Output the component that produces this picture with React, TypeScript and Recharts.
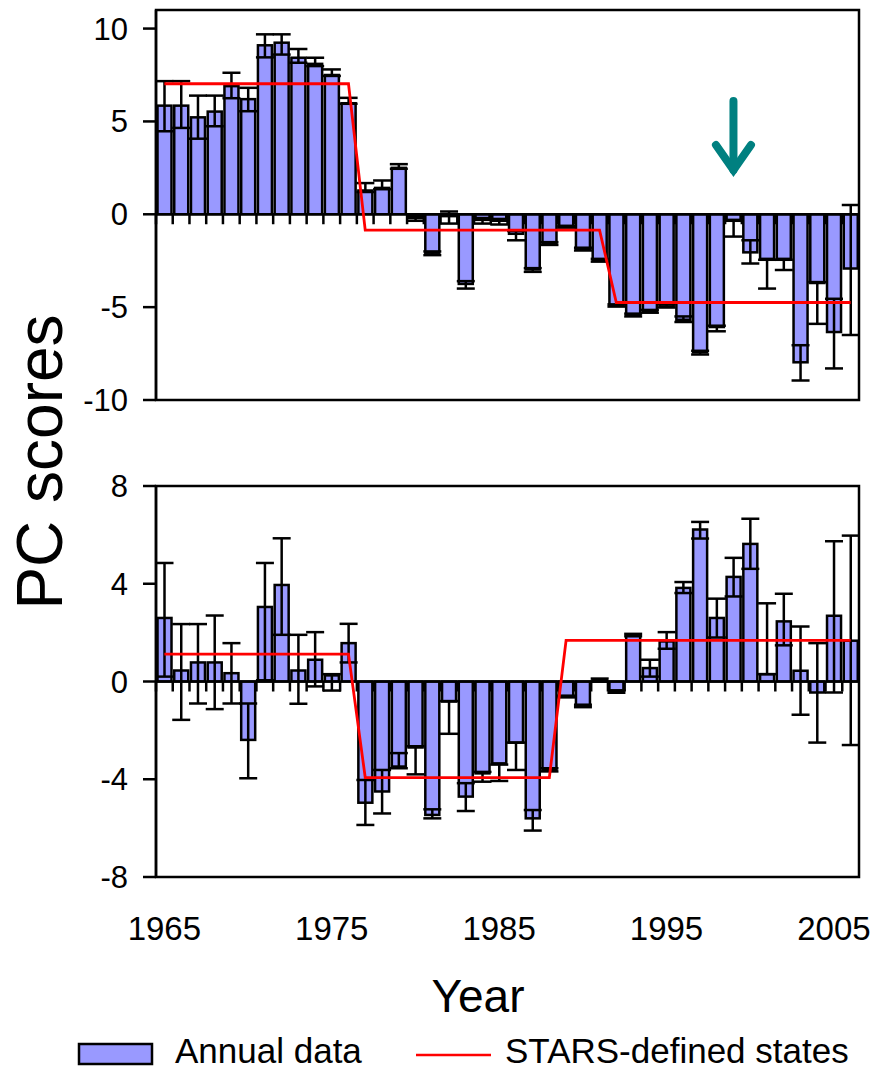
import React from 'react';
import {
  ComposedChart,
  Bar,
  Line,
  XAxis,
  YAxis,
  ErrorBar,
  ReferenceLine,
  ReferenceArea,
} from 'recharts';

const FONT = "'Liberation Sans', Arial, Helvetica, sans-serif";
const BAR_FILL = '#9999FF';
const BAR_GAP = 1.5;

// Categories
const years = [
  1965, 1966, 1967, 1968, 1969, 1970, 1971, 1972, 1973, 1974,
  1975, 1976, 1977, 1978, 1979, 1980, 1981, 1982, 1983, 1984,
  1985, 1986, 1987, 1988, 1989, 1990, 1991, 1992, 1993, 1994,
  1995, 1996, 1997, 1998, 1999, 2000, 2001, 2002, 2003, 2004,
  2005, 2006,
];

// Upper panel (PC1)
const pc1Values = [
  5.85, 5.85, 5.22, 5.53, 6.9, 6.2, 9.1, 9.24, 8.43, 8.1,
  7.5, 5.98, 1.28, 1.42, 2.5, -0.2, -2.07, -0.1, -3.75, -0.3,
  -0.35, -1.05, -2.97, -1.57, -0.67, -1.87, -2.47, -4.9, -5.44, -5.21,
  -4.96, -5.68, -7.43, -6.07, -0.35, -2.05, -2.4, -2.4, -7.97, -3.7,
  -6.34, -2.92,
];
const pc1Low = [
  4.47, 4.65, 4.07, 4.74, 6.25, 5.55, 8.45, 8.6, 8.16, 7.98,
  7.45, 5.95, 1.2, 1.35, 2.45, -0.35, -2.2, -0.5, -4.0, -0.5,
  -0.55, -1.4, -3.1, -1.65, -0.72, -1.95, -2.55, -4.97, -5.5, -5.3,
  -5.02, -5.8, -7.55, -6.3, -1.2, -2.65, -4.0, -3.0, -8.95, -5.9,
  -8.3, -6.5,
];
const pc1High = [
  7.17, 7.17, 6.39, 6.39, 7.62, 6.81, 9.69, 9.69, 8.9, 8.43,
  7.8, 6.27, 1.68, 1.82, 2.7, -0.1, -2.0, 0.15, -3.6, -0.2,
  -0.25, -0.9, -2.9, -1.5, -0.62, -1.8, -2.4, -4.85, -5.35, -5.15,
  -4.85, -5.5, -7.35, -6.0, -0.3, -1.4, -2.45, -2.45, -7.05, -3.65,
  -4.55, 0.5,
];
const pc1States = [
  7.03, 7.03, 7.03, 7.03, 7.03, 7.03, 7.03, 7.03, 7.03, 7.03,
  7.03, 7.03, -0.85, -0.85, -0.85, -0.85, -0.85, -0.85, -0.85, -0.85,
  -0.85, -0.85, -0.85, -0.85, -0.85, -0.85, -0.85, -4.75, -4.75, -4.75,
  -4.75, -4.75, -4.75, -4.75, -4.75, -4.75, -4.75, -4.75, -4.75, -4.75,
  -4.75, -4.75,
];

// Lower panel (PC2)
const pc2Values = [
  2.6, 0.45, 0.78, 0.78, 0.34, -2.39, 3.05, 3.95, 0.45, 0.89,
  0.25, 1.57, -4.96, -4.5, -3.48, -2.7, -5.46, -0.82, -4.71, -3.76,
  -3.35, -2.5, -5.6, -3.62, -0.61, -1.0, 0.05, -0.41, 1.91, 0.55,
  1.64, 3.83, 6.22, 2.6, 4.28, 5.63, 0.3, 2.46, 0.44, -0.45,
  2.69, 1.67,
];
const pc2Low = [
  0.2, -1.57, -0.9, -1.13, -0.9, -3.96, 0.05, 1.91, -0.91, -0.2,
  -0.37, 0.78, -5.87, -5.4, -3.55, -3.8, -5.6, -2.14, -5.3, -4.1,
  -4.07, -3.62, -6.1, -3.68, -0.65, -1.05, 0.0, -0.46, 1.85, 0.2,
  1.34, 3.62, 5.85, 1.8, 3.48, 4.61, 0.3, 1.48, -1.36, -2.5,
  -0.45, -2.6,
];
const pc2High = [
  4.85, 2.35, 2.35, 2.7, 1.57, -0.9, 4.85, 5.86, 1.91, 2.02,
  0.3, 2.36, -4.03, -3.62, -2.93, -2.65, -5.23, -0.8, -4.16, -3.7,
  -3.4, -2.5, -5.26, -3.55, -0.58, -0.95, 0.12, -0.36, 1.95, 0.89,
  2.02, 4.07, 6.53, 3.39, 5.06, 6.66, 3.2, 3.59, 2.25, 1.57,
  5.74, 5.97,
];
const pc2States = [
  1.12, 1.12, 1.12, 1.12, 1.12, 1.12, 1.12, 1.12, 1.12, 1.12,
  1.12, 1.12, -3.93, -3.93, -3.93, -3.93, -3.93, -3.93, -3.93, -3.93,
  -3.93, -3.93, -3.93, -3.93, 1.68, 1.68, 1.68, 1.68, 1.68, 1.68,
  1.68, 1.68, 1.68, 1.68, 1.68, 1.68, 1.68, 1.68, 1.68, 1.68,
  1.68, 1.68,
];

// Axis ticks
const pc1Ticks = [-10, -5, 0, 5, 10];
const pc2Ticks = [-8, -4, 0, 4, 8];

// Arrow annotation (upper panel)
const arrowYear = 1999;
const arrowFrom = 6.1;
const arrowTo = 1.95;

function buildData(values: number[], low: number[], high: number[], states: number[]) {
  return years.map((year, i) => ({
    year,
    value: values[i],
    err: [values[i] - low[i], high[i] - values[i]],
    state: states[i],
  }));
}

const pc1Data = buildData(pc1Values, pc1Low, pc1High, pc1States);
const pc2Data = buildData(pc2Values, pc2Low, pc2High, pc2States);

function BarWithTick(props: any) {
  const { x, y, width, height, fill } = props;
  if (x == null || y == null || height == null) return null;
  const base = y + height;
  const top = Math.min(y, base);
  const h = Math.abs(height);
  const bx = x - BAR_GAP;
  return (
    <g>
      <rect x={x} y={top} width={width} height={h} fill={fill} stroke="#000" strokeWidth={2.5} />
      <line x1={bx} y1={base} x2={bx} y2={base + 10} stroke="#000" strokeWidth={2.5} />
    </g>
  );
}

function ArrowShape(props: any) {
  const { x1, y1, x2, y2 } = props;
  if (x1 == null) return null;
  const head = 33;
  const half = 17.5;
  return (
    <g stroke="#008080" strokeWidth={8} fill="none" strokeLinecap="round" strokeLinejoin="miter">
      <line x1={x1} y1={y1} x2={x2} y2={y2 - 8} />
      <polyline points={`${x2 - half},${y2 - head} ${x2},${y2 - 8} ${x2 + half},${y2 - head}`} />
    </g>
  );
}

type PanelProps = {
  data: any[];
  domain: [number, number];
  ticks: number[];
  showX: boolean;
  height: number;
  top: number;
  arrow?: boolean;
};

function Panel({ data, domain, ticks, showX, height, top, arrow }: PanelProps) {
  return (
    <ComposedChart
      width={877}
      height={height}
      data={data}
      margin={{ top, right: 18, bottom: showX ? 0 : 30, left: 0 }}
      barCategoryGap={BAR_GAP}
    >
      <XAxis
        dataKey="year"
        type="category"
        hide={!showX}
        interval={9}
        axisLine={false}
        tickLine={false}
        tickSize={0}
        tickMargin={40}
        height={90}
        tick={{ fontSize: 33, fill: '#000', fontFamily: FONT }}
      />
      <YAxis
        type="number"
        domain={domain}
        ticks={ticks}
        interval={0}
        allowDataOverflow
        width={156}
        tickSize={13}
        tickMargin={15}
        axisLine={{ stroke: '#000', strokeWidth: 2.5 }}
        tickLine={{ stroke: '#000', strokeWidth: 2.5 }}
        tick={{ fontSize: 31, fill: '#000', fontFamily: FONT }}
      />
      <ReferenceArea
        y1={domain[0]}
        y2={domain[1]}
        fill="none"
        fillOpacity={0}
        stroke="#000"
        strokeWidth={2.5}
        ifOverflow="visible"
      />
      <Bar dataKey="value" fill={BAR_FILL} shape={<BarWithTick />} isAnimationActive={false}>
        <ErrorBar dataKey="err" width={9} stroke="#000" strokeWidth={2.5} direction="y" isAnimationActive={false} />
      </Bar>
      <ReferenceLine y={0} stroke="#000" strokeWidth={2.5} />
      <Line
        dataKey="state"
        type="linear"
        stroke="#FF0000"
        strokeWidth={2.8}
        dot={false}
        activeDot={false}
        isAnimationActive={false}
      />
      {arrow && (
        <ReferenceLine
          segment={[
            { x: arrowYear, y: arrowFrom },
            { x: arrowYear, y: arrowTo },
          ]}
          shape={ArrowShape}
          ifOverflow="visible"
        />
      )}
    </ComposedChart>
  );
}

export default function App() {
  return (
    <div
      style={{
        position: 'absolute',
        left: 0,
        top: 0,
        width: 877,
        height: 1071,
        background: '#fff',
        fontFamily: FONT,
        overflow: 'hidden',
      }}
    >
      <div style={{ position: 'absolute', left: 0, top: 0 }}>
        <Panel data={pc1Data} domain={[-10, 11]} ticks={pc1Ticks} showX={false} height={430} top={10} arrow />
      </div>
      <div style={{ position: 'absolute', left: 0, top: 456 }}>
        <Panel data={pc2Data} domain={[-8, 8]} ticks={pc2Ticks} showX height={511} top={30} />
      </div>
      <svg
        width={877}
        height={1071}
        style={{ position: 'absolute', left: 0, top: 0, pointerEvents: 'none' }}
        fontFamily={FONT}
      >
        <text transform="translate(62,462) rotate(-90)" textAnchor="middle" fontSize={64} fill="#000">
          PC scores
        </text>
        <text x={478} y={1012} textAnchor="middle" fontSize={46} fill="#000">
          Year
        </text>
        <rect x={79} y={1044} width={73} height={20} fill={BAR_FILL} stroke="#000" strokeWidth={2.5} />
        <text x={175} y={1063} fontSize={35} fill="#000">
          Annual data
        </text>
        <line x1={416} y1={1055} x2={491} y2={1055} stroke="#FF0000" strokeWidth={2.5} />
        <text x={505} y={1063} fontSize={35} fill="#000">
          STARS-defined states
        </text>
      </svg>
    </div>
  );
}
